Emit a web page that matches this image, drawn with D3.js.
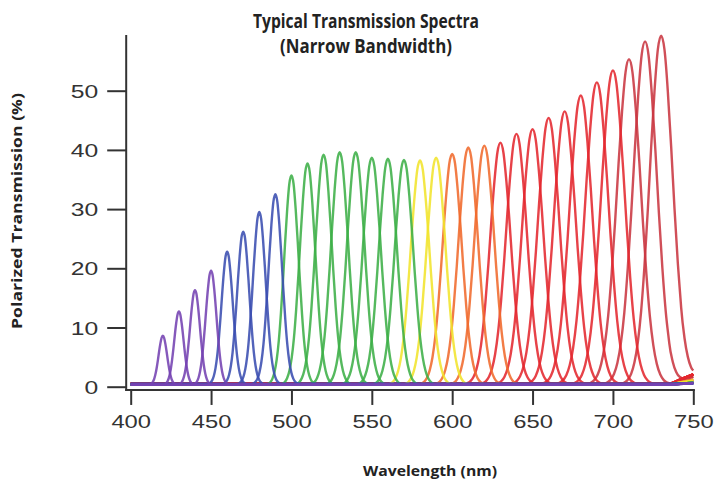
<!DOCTYPE html>
<meta charset="utf-8">
<script src="https://d3js.org/d3.v7.min.js"></script>
<style>
  body { margin: 0; background: #fff; }
  text { fill: #222; }
</style>
<div id="my_dataviz"></div>
<script>

// peak centre (nm), peak height (%), full width at half max (nm), colour group
var peakNm  = [420, 430, 440, 450, 460, 470, 480, 490, 500, 510, 520, 530, 540, 550, 560, 570,
               580, 590, 600, 610, 620, 630, 640, 650, 660, 670, 680, 690, 700, 710, 720, 730];
var peakPct = [8.6, 12.7, 16.3, 19.6, 22.8, 26.2, 29.5, 32.5, 35.7, 37.7, 39.2, 39.6, 39.6, 38.7, 38.5, 38.3,
               38.2, 38.7, 39.3, 40.4, 40.7, 41.2, 42.7, 43.5, 45.4, 46.5, 49.2, 51.4, 53.4, 55.3, 58.3, 59.3];
var fwhmNm  = [6.2, 6.8, 7.3, 7.8, 8.3, 8.8, 9.3, 9.9, 10.5, 11.3, 12.0, 12.5, 12.8, 13.0, 13.2, 13.4,
               13.6, 13.8, 14.0, 14.3, 14.6, 14.9, 15.2, 15.5, 15.8, 16.1, 16.5, 16.9, 17.2, 17.3, 17.2, 16.6];
var peakGroup = ["purple", "purple", "purple", "purple", "blue", "blue", "blue", "blue",
                 "green", "green", "green", "green", "green", "green", "green", "green",
                 "yellow", "yellow", "orange", "orange", "orange",
                 "red", "red", "red", "red", "red", "red", "red", "red", "dark", "dark", "dark"];

// colour groups: stroke, baseline level (%), level reached at 750 nm (%)
var groupNames  = ["purple", "blue", "green", "yellow", "orange", "red", "dark"];
var groupColors = ["#7442b2", "#3a4db0", "#3daf48", "#f1e42c", "#f06a2c", "#e4282f", "#c93741"];
var groupBase   = [0.3, 0.4, 0.3, 0.3, 0.3, 0.4, 0.4];
var groupEnd    = [0.6, 0.5, 0.6, 1.0, 1.1, 2.0, 1.6];

// normalised line shape: offset in half-widths -> fraction of height
var shapeU = [-3, -2.75, -2.5, -2.25, -2, -1.75, -1.5, -1.25, -1, -0.75, -0.5, -0.25, 0,
              0.25, 0.5, 0.75, 1, 1.25, 1.5, 1.75, 2, 2.25, 2.5, 2.75, 3];
var shapeV = [0.002, 0.005, 0.013, 0.03, 0.063, 0.12, 0.21, 0.34, 0.5, 0.68, 0.84, 0.96, 1,
              0.96, 0.84, 0.68, 0.5, 0.34, 0.21, 0.12, 0.063, 0.03, 0.013, 0.005, 0.002];

var xTicks = [400, 450, 500, 550, 600, 650, 700, 750];
var yTicks = [0, 10, 20, 30, 40, 50];

var W = 716, H = 485;

var svg = d3.select("#my_dataviz")
  .append("svg")
    .attr("width", W)
    .attr("height", H);

var x = d3.scaleLinear().domain([400, 750]).range([130.7, 693.3]);
var y = d3.scaleLinear().domain([0, 60]).range([386.7, 31.5]);

var shape = d3.scaleLinear().domain(shapeU).range(shapeV).clamp(true);

function groupIdx(g) { return groupNames.indexOf(g); }

function baseAt(nm, gi) {
  if (nm <= 735) return groupBase[gi];
  return groupBase[gi] + (groupEnd[gi] - groupBase[gi]) * (nm - 735) / 15;
}

var curves = peakNm.map(function(c, i) {
  var gi = groupIdx(peakGroup[i]);
  var hw = fwhmNm[i] / 2;
  var xs = [400, 735, 742, 750].concat(shapeU.map(function(u) { return c + u * hw; }));
  xs = xs.filter(function(v) { return v >= 400 && v <= 750; }).sort(d3.ascending);
  var pts = xs.map(function(nm) {
    var b = baseAt(nm, gi);
    return [nm, b + (peakPct[i] - groupBase[gi]) * shape((nm - c) / hw)];
  });
  return { color: groupColors[gi], pts: pts };
});

var line = d3.line()
  .x(function(d) { return x(d[0]); })
  .y(function(d) { return y(d[1]); })
  .curve(d3.curveMonotoneX);

// long wavelengths first so the violet/blue baselines sit on top
svg.append("g")
  .selectAll("path")
  .data(curves.slice().reverse())
  .enter()
  .append("path")
    .attr("d", function(d) { return line(d.pts); })
    .attr("fill", "none")
    .attr("stroke", function(d) { return d.color; })
    .attr("stroke-width", 2.4)
    .attr("stroke-opacity", 0.88)
    .attr("stroke-linejoin", "round");

// axes
var axisColor = "#333";
var axisX0 = x(397.2), axisY0 = y(-0.55);

var yAxis = svg.append("g")
  .attr("transform", "translate(" + axisX0 + ",0)")
  .call(d3.axisLeft(y).tickValues(yTicks).tickSize(19).tickPadding(0).tickFormat(d3.format("d")));
yAxis.select(".domain").remove();
yAxis.selectAll("line").attr("stroke", axisColor).attr("stroke-width", 2);
yAxis.selectAll("text")
  .attr("x", -28 / 1.3)
  .attr("dy", "0.35em")
  .attr("transform", "scale(1.3,1)")
  .style("font-family", "'Liberation Sans', Arial, sans-serif")
  .style("font-size", "19px")
  .style("fill", "#333");

var xAxis = svg.append("g")
  .attr("transform", "translate(0," + axisY0 + ")")
  .call(d3.axisBottom(x).tickValues(xTicks).tickSize(15).tickFormat(d3.format("d")));
xAxis.select(".domain").remove();
xAxis.selectAll("line").attr("stroke", axisColor).attr("stroke-width", 2);
xAxis.selectAll("text")
  .attr("y", 38)
  .attr("dy", 0)
  .attr("transform", "scale(1.25,1)")
  .style("font-family", "'Liberation Sans', Arial, sans-serif")
  .style("font-size", "19px")
  .style("fill", "#333");

svg.append("line")
  .attr("x1", axisX0).attr("x2", axisX0)
  .attr("y1", y(59.4)).attr("y2", axisY0 + 1)
  .attr("stroke", axisColor).attr("stroke-width", 2);
svg.append("line")
  .attr("x1", axisX0 - 1).attr("x2", x(751))
  .attr("y1", axisY0).attr("y2", axisY0)
  .attr("stroke", axisColor).attr("stroke-width", 2);

// titles
var titleFont = "'Open Sans', Lato, sans-serif";
svg.append("text")
  .attr("x", 366).attr("y", 28)
  .attr("text-anchor", "middle")
  .attr("textLength", 226).attr("lengthAdjust", "spacingAndGlyphs")
  .style("font-family", titleFont).style("font-weight", 700).style("font-size", "19px")
  .text("Typical Transmission Spectra");
svg.append("text")
  .attr("x", 366).attr("y", 53)
  .attr("text-anchor", "middle")
  .attr("textLength", 172).attr("lengthAdjust", "spacingAndGlyphs")
  .style("font-family", titleFont).style("font-weight", 700).style("font-size", "19px")
  .text("(Narrow Bandwidth)");

svg.append("text")
  .attr("x", 430).attr("y", 476)
  .attr("text-anchor", "middle")
  .attr("textLength", 134).attr("lengthAdjust", "spacingAndGlyphs")
  .style("font-family", titleFont).style("font-weight", 700).style("font-size", "15px")
  .text("Wavelength (nm)");

svg.append("text")
  .attr("transform", "translate(22,211) rotate(-90)")
  .attr("text-anchor", "middle")
  .attr("textLength", 236).attr("lengthAdjust", "spacingAndGlyphs")
  .style("font-family", titleFont).style("font-weight", 700).style("font-size", "15px")
  .text("Polarized Transmission (%)");

</script>
